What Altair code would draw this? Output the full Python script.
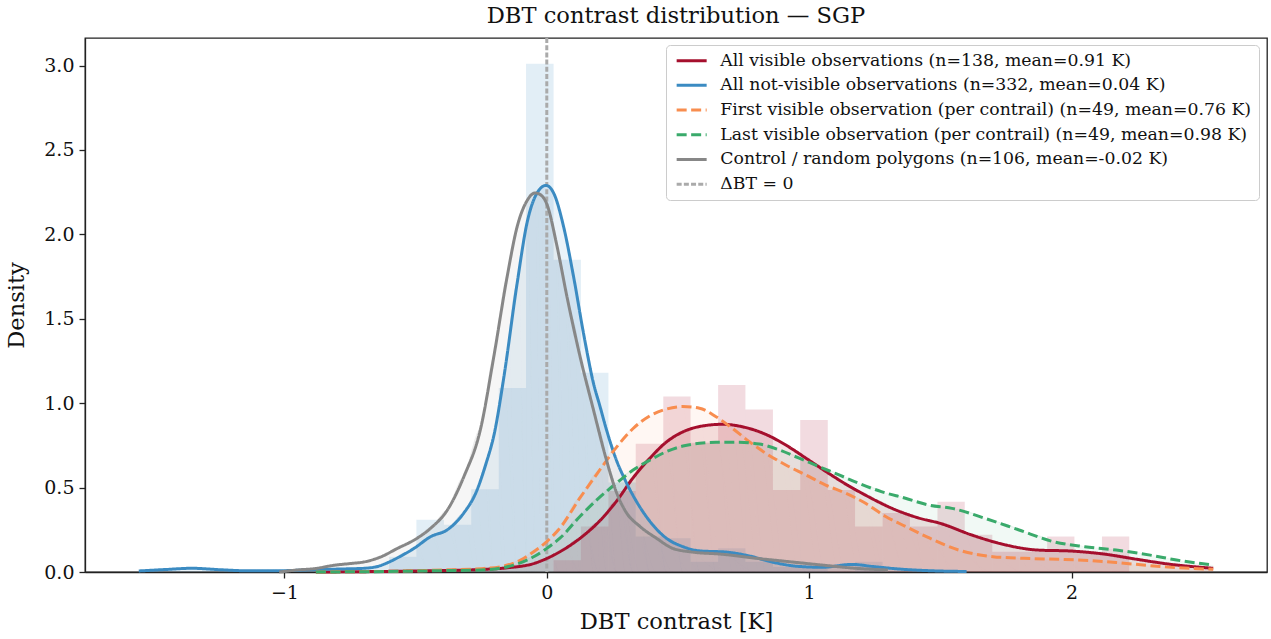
import altair as alt
import pandas as pd

FONT = "DejaVu Serif"

# ---------------- data ----------------
series_names = [
    "All visible observations (n=138, mean=0.91 K)",
    "All not-visible observations (n=332, mean=0.04 K)",
    "First visible observation (per contrail) (n=49, mean=0.76 K)",
    "Last visible observation (per contrail) (n=49, mean=0.98 K)",
    "Control / random polygons (n=106, mean=-0.02 K)",
    "ΔBT = 0",
]
series_colors = ["#a50f2d", "#3b8bc2", "#f88d4f", "#3aaa6b", "#878787", "#aaaaaa"]
series_dash = [[1, 0], [1, 0], [10, 4.5], [10, 4.5], [1, 0], [5, 2.2]]
series_width = [3, 3, 3, 3, 3, 1.2]

# histogram bin edges (K) and densities
hist_edges = [-0.601, -0.497, -0.392, -0.288, -0.183, -0.079, 0.026, 0.130, 0.235,
              0.339, 0.444, 0.548, 0.653, 0.757, 0.862, 0.966, 1.071, 1.175, 1.280,
              1.384, 1.489, 1.593, 1.698, 1.802, 1.907, 2.011, 2.116, 2.220]
notvis_hist = [0.09, 0.31, 0.28, 0.49, 1.09, 3.01, 1.85, 1.18, 0.53, 0.21, 0.20, 0.06,
               0.14, 0.06, 0.03, 0.03, 0.0, 0.06, 0.0, 0.0, 0.0, 0.0, 0.0, 0.0, 0.0, 0.0, 0.0]
vis_hist = [0.0, 0.0, 0.0, 0.0, 0.0, 0.0, 0.07, 0.27, 0.48, 0.76, 1.04, 0.765, 1.107,
            0.963, 0.485, 0.90, 0.485, 0.27, 0.35, 0.27, 0.416, 0.22, 0.12, 0.12, 0.21,
            0.12, 0.21]

# KDE curves
vis_x = [-0.88, -0.7, -0.5, -0.35, -0.25, -0.15, -0.05, 0.0, 0.05, 0.127, 0.2, 0.266,
         0.33, 0.393, 0.456, 0.519, 0.583, 0.67, 0.746, 0.835, 0.911, 0.987, 1.063,
         1.14, 1.215, 1.316, 1.417, 1.5, 1.62, 1.75, 1.87, 2.0, 2.12, 2.25, 2.37, 2.54]
vis_y = [0.0, 0.002, 0.006, 0.01, 0.015, 0.025, 0.05, 0.08, 0.12, 0.2, 0.3, 0.42,
         0.56, 0.674, 0.77, 0.83, 0.862, 0.875, 0.86, 0.815, 0.752, 0.675, 0.596,
         0.52, 0.455, 0.377, 0.32, 0.288, 0.219, 0.16, 0.13, 0.124, 0.107, 0.075, 0.047, 0.022]

notvis_x = [-1.555, -1.45, -1.353, -1.25, -1.138, -1.0, -0.886, -0.78, -0.696, -0.64,
            -0.607, -0.55, -0.506, -0.442, -0.379, -0.316, -0.27, -0.232, -0.2, -0.164,
            -0.113, -0.075, -0.037, -0.003, 0.026, 0.064, 0.102, 0.14, 0.178, 0.203,
            0.228, 0.266, 0.30, 0.33, 0.393, 0.456, 0.519, 0.583, 0.684, 0.772, 0.861,
            0.962, 1.05, 1.164, 1.24, 1.34, 1.455, 1.6]
notvis_y = [0.006, 0.015, 0.022, 0.014, 0.007, 0.008, 0.014, 0.018, 0.022, 0.035,
            0.055, 0.10, 0.14, 0.21, 0.25, 0.35, 0.47, 0.64, 0.82, 1.15,
            1.71, 2.07, 2.245, 2.29, 2.245, 2.046, 1.75, 1.414, 1.118, 0.98,
            0.84, 0.66, 0.54, 0.45, 0.30, 0.20, 0.15, 0.125, 0.118, 0.095, 0.058,
            0.033, 0.028, 0.045, 0.033, 0.018, 0.008, 0.003]

first_x = [-0.88, -0.6, -0.4, -0.25, -0.164, -0.1, -0.05, 0.0, 0.05, 0.127, 0.2, 0.266,
           0.329, 0.393, 0.456, 0.518, 0.582, 0.645, 0.708, 0.772, 0.835, 0.911, 0.987,
           1.063, 1.14, 1.215, 1.29, 1.367, 1.46, 1.57, 1.7, 1.82, 1.95, 2.08, 2.2, 2.35, 2.54]
first_y = [0.0, 0.004, 0.012, 0.02, 0.035, 0.07, 0.12, 0.18, 0.26, 0.44, 0.6, 0.74,
           0.85, 0.925, 0.965, 0.98, 0.97, 0.92, 0.85, 0.772, 0.703, 0.634, 0.575,
           0.515, 0.466, 0.407, 0.33, 0.27, 0.2, 0.13, 0.091, 0.081, 0.075, 0.067, 0.052, 0.031, 0.016]

last_x = [-0.88, -0.6, -0.4, -0.25, -0.126, -0.05, 0.0, 0.05, 0.127, 0.2, 0.266, 0.329,
          0.393, 0.456, 0.519, 0.582, 0.645, 0.734, 0.810, 0.886, 0.962, 1.038, 1.114,
          1.19, 1.275, 1.367, 1.455, 1.544, 1.67, 1.8, 1.93, 2.05, 2.17, 2.3, 2.4, 2.54]
last_y = [0.0, 0.003, 0.008, 0.012, 0.041, 0.09, 0.14, 0.2, 0.33, 0.44, 0.527, 0.604,
          0.663, 0.713, 0.746, 0.762, 0.768, 0.768, 0.758, 0.723, 0.674, 0.624, 0.575,
          0.525, 0.476, 0.437, 0.397, 0.377, 0.318, 0.249, 0.18, 0.15, 0.13, 0.10, 0.071, 0.041]

ctrl_x = [-1.02, -0.95, -0.885, -0.81, -0.75, -0.695, -0.632, -0.569, -0.505, -0.442,
          -0.379, -0.316, -0.252, -0.202, -0.151, -0.113, -0.075, -0.045, -0.02, 0.0,
          0.039, 0.077, 0.127, 0.178, 0.228, 0.266, 0.30, 0.355, 0.418, 0.48, 0.545,
          0.67, 0.8, 0.924, 1.05, 1.177, 1.3]
ctrl_y = [0.0, 0.012, 0.02, 0.04, 0.05, 0.06, 0.09, 0.14, 0.19, 0.26,
          0.367, 0.565, 0.85, 1.275, 1.75, 2.045, 2.2, 2.245, 2.23, 2.18,
          1.93, 1.63, 1.275, 0.96, 0.66, 0.47, 0.36, 0.27, 0.2, 0.14, 0.12,
          0.105, 0.081, 0.061, 0.041, 0.022, 0.012]

curve_order = [  # (name index, x, y, fill opacity)
    (0, vis_x, vis_y, 0.12),
    (1, notvis_x, notvis_y, 0.10),
    (2, first_x, first_y, 0.07),
    (3, last_x, last_y, 0.07),
    (4, ctrl_x, ctrl_y, 0.08),
]

x_ticks = [-1, 0, 1, 2]
y_ticks = [0.0, 0.5, 1.0, 1.5, 2.0, 2.5, 3.0]
x_domain = [-1.76, 2.745]
y_domain = [0, 3.163]

# ---------------- build ----------------
xs = alt.Scale(domain=x_domain, nice=False, zero=False)
ys = alt.Scale(domain=y_domain, nice=False)

xax = alt.Axis(values=x_ticks, title="DBT contrast [K]", format="d")
yax = alt.Axis(values=y_ticks, title="Density", format=".1f")

hist_rows = []
for i in range(len(hist_edges) - 1):
    hist_rows.append({"grp": "nv", "x": hist_edges[i], "x2": hist_edges[i + 1], "d": notvis_hist[i]})
    hist_rows.append({"grp": "v", "x": hist_edges[i], "x2": hist_edges[i + 1], "d": vis_hist[i]})
hist_df = pd.DataFrame(hist_rows)

hist_nv = alt.Chart(hist_df).transform_filter("datum.grp == 'nv'").mark_rect(
    color=series_colors[1], opacity=0.15).encode(
    x=alt.X("x:Q", scale=xs, axis=xax), x2="x2:Q",
    y=alt.Y("d:Q", scale=ys, axis=yax), y2=alt.datum(0))
hist_v = alt.Chart(hist_df).transform_filter("datum.grp == 'v'").mark_rect(
    color=series_colors[0], opacity=0.15).encode(
    x=alt.X("x:Q", scale=xs), x2="x2:Q",
    y=alt.Y("d:Q", scale=ys), y2=alt.datum(0))

layers = [hist_nv, hist_v]

curve_rows = []
for idx, cx, cy, op in curve_order:
    for j, (a, b) in enumerate(zip(cx, cy)):
        curve_rows.append({"series": series_names[idx], "x": a, "y": b, "o": j})
curve_df = pd.DataFrame(curve_rows)

for idx, cx, cy, op in curve_order:
    layers.append(
        alt.Chart(curve_df).transform_filter(
            alt.FieldEqualPredicate(field="series", equal=series_names[idx])
        ).mark_area(color=series_colors[idx], opacity=op, interpolate="monotone").encode(
            x=alt.X("x:Q", scale=xs), y=alt.Y("y:Q", scale=ys), order="o:Q")
    )

color_scale = alt.Scale(domain=series_names, range=series_colors)
dash_scale = alt.Scale(domain=series_names, range=series_dash)
width_scale = alt.Scale(domain=series_names, range=series_width)

leg = alt.Legend(
    title=None, orient="none", legendX=581, legendY=7,
    symbolType="M-1,0H5", symbolSize=100, labelOffset=30,
    labelFont=FONT, labelFontSize=17.3, labelColor="#111", labelLimit=0,
    rowPadding=6.7, padding=7, fillColor="white", strokeColor="#cccccc",
    cornerRadius=4,
)

# rule at zero (ΔBT = 0)
rule_df = pd.DataFrame({"series": [series_names[5]], "x": [0.0]})
rule = alt.Chart(rule_df).mark_rule().encode(
    x=alt.X("x:Q", scale=xs),
    color=alt.Color("series:N", scale=color_scale, legend=leg),
    strokeDash=alt.StrokeDash("series:N", scale=dash_scale, legend=leg),
    strokeWidth=alt.StrokeWidth("series:N", scale=width_scale, legend=leg),
)
layers.append(rule)

lines = alt.Chart(curve_df).mark_line(interpolate="monotone").encode(
    x=alt.X("x:Q", scale=xs), y=alt.Y("y:Q", scale=ys),
    color=alt.Color("series:N", scale=color_scale, legend=leg),
    strokeDash=alt.StrokeDash("series:N", scale=dash_scale, legend=leg),
    strokeWidth=alt.StrokeWidth("series:N", scale=width_scale, legend=leg),
    order="o:Q",
)
line_layers = []
for idx in [0, 1, 2, 3, 4]:
    line_layers.append(lines.transform_filter(
        alt.FieldEqualPredicate(field="series", equal=series_names[idx])))

chart = alt.layer(*layers, *line_layers).properties(
    width=1182, height=534,
    title=alt.TitleParams("DBT contrast distribution — SGP", font=FONT, fontSize=22.6,
                          fontWeight="normal", color="#111", anchor="middle", offset=9),
    autosize=alt.AutoSizeParams(type="none"),
    padding={"left": 85, "top": 38, "right": 4, "bottom": 67},
).configure_view(stroke="#222", strokeWidth=1.3).configure_axis(
    grid=False, domainColor="#222", domainWidth=1.3, tickColor="#222", tickSize=6,
    tickWidth=1.3, labelFont=FONT, labelFontSize=19, labelColor="#111", labelPadding=5,
    titleFont=FONT, titleFontSize=22.6, titleFontWeight="normal", titleColor="#111",
).configure_axisX(titlePadding=8).configure_axisY(titlePadding=15)

chart.save("out.html", embed_options={"renderer": "svg", "actions": False})
